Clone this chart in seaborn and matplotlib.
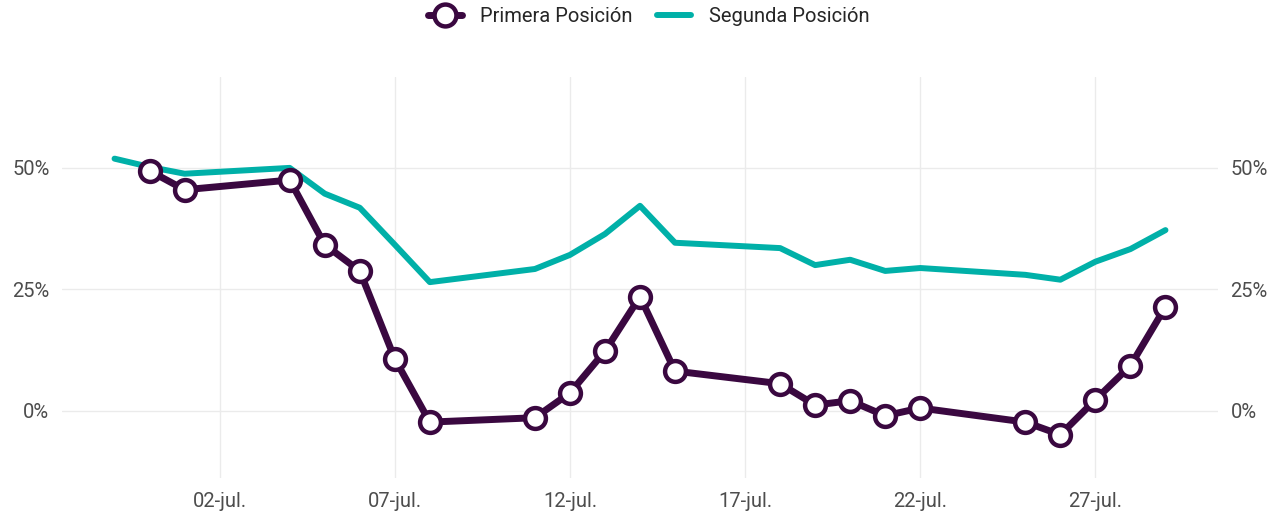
import pandas as pd
import numpy as np
import matplotlib
matplotlib.use('Agg')
import matplotlib.pyplot as plt
import matplotlib.dates as mdates
import seaborn as sns

# fechas y valores (%)
fechas_primera = ['2020-06-30', '2020-07-01', '2020-07-04', '2020-07-05', '2020-07-06',
                  '2020-07-07', '2020-07-08', '2020-07-11', '2020-07-12', '2020-07-13',
                  '2020-07-14', '2020-07-15', '2020-07-18', '2020-07-19', '2020-07-20',
                  '2020-07-21', '2020-07-22', '2020-07-25', '2020-07-26', '2020-07-27',
                  '2020-07-28', '2020-07-29']
primera = [49.4, 45.5, 47.5, 34.2, 28.8, 10.7, -2.3, -1.4, 3.7, 12.3, 23.5, 8.2,
           5.6, 1.2, 2.1, -1.0, 0.6, -2.3, -4.9, 2.3, 9.3, 21.4]

fechas_segunda = ['2020-06-29'] + fechas_primera
segunda = [51.9, 50.2, 48.8, 50.0, 44.7, 41.8, 34.2, 26.5, 29.2, 32.1, 36.4, 42.2,
           34.6, 33.5, 30.0, 31.1, 28.8, 29.4, 28.0, 27.0, 30.7, 33.3, 37.2]

tick_fechas = ['2020-07-02', '2020-07-07', '2020-07-12', '2020-07-17', '2020-07-22', '2020-07-27']
y_ticks = [0, 25, 50]

df1 = pd.DataFrame({'fecha': pd.to_datetime(fechas_primera), 'valor': primera})
df2 = pd.DataFrame({'fecha': pd.to_datetime(fechas_segunda), 'valor': segunda})

sns.set_style('white')
plt.rcParams['font.family'] = ['Roboto', 'DejaVu Sans']

purple = '#3a0840'
teal = '#00b0a8'

fig = plt.figure(figsize=(12.74, 5.13), dpi=100)
ax = fig.add_axes([62 / 1274, 35 / 513, (1218 - 62) / 1274, (478 - 77) / 513])

sns.lineplot(data=df2, x='fecha', y='valor', ax=ax, color=teal, linewidth=4.3,
             label='Segunda Posición', zorder=2)
sns.lineplot(data=df1, x='fecha', y='valor', ax=ax, color=purple, linewidth=5,
             marker='o', markersize=15, markerfacecolor='white',
             markeredgecolor=purple, markeredgewidth=3.2,
             label='Primera Posición', zorder=3)

ax.set_xlim(pd.Timestamp('2020-06-27 12:00'), pd.Timestamp('2020-07-30 12:00'))
ax.set_ylim(-13.8, 68.7)

ax.set_xticks(pd.to_datetime(tick_fechas))
ax.xaxis.set_major_formatter(plt.FuncFormatter(
    lambda v, p: f"{mdates.num2date(v).day:02d}-jul."))
ax.set_yticks(y_ticks)
ax.set_yticklabels([f"{t}%" for t in y_ticks])

ax.grid(True, color='#ebebeb', linewidth=1)
for s in ax.spines.values():
    s.set_visible(False)
ax.tick_params(axis='both', length=0, labelsize=14.5, colors='#4d4d4d')
ax.tick_params(axis='x', pad=10)
ax.tick_params(axis='y', pad=9, labelright=True)
ax.set_xlabel('')
ax.set_ylabel('')

handles, labels = ax.get_legend_handles_labels()
order = [1, 0]
fig.legend([handles[i] for i in order], [labels[i] for i in order],
           loc='center', bbox_to_anchor=(0.5 + 12 / 1274, 1 - 17 / 513), ncol=2,
           frameon=False, fontsize=14.5, handlelength=1.7, columnspacing=1.2,
           handletextpad=0.9, markerscale=1.05)
ax.get_legend().remove()

plt.savefig('out.png', dpi=100)
